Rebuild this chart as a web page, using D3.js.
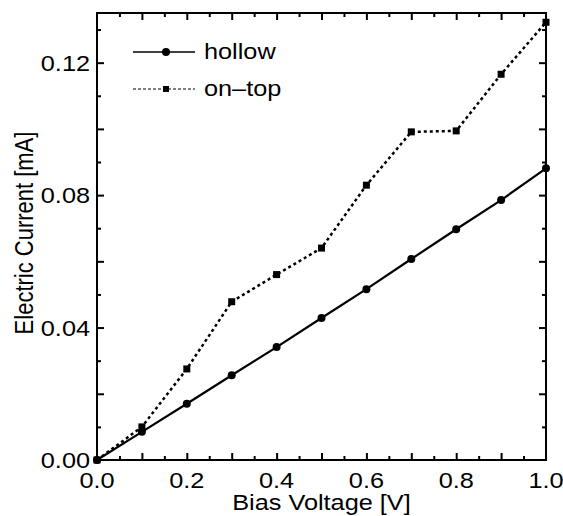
<!DOCTYPE html>
<html>
<head>
<meta charset="utf-8">
<script src="https://cdn.jsdelivr.net/npm/d3@7"></script>
<style>
  body { margin: 0; background: #fff; }
  svg text { font-family: "Liberation Sans", Arial, sans-serif; fill: #000; }
</style>
</head>
<body>
<svg id="chart" width="563" height="516"></svg>
<script>
// Bias voltage values shared by both curves
const voltage = [0.0, 0.1, 0.2, 0.3, 0.4, 0.5, 0.6, 0.7, 0.8, 0.9, 1.0];
// Electric current [mA] for each configuration
const hollow = [0.0, 0.0085, 0.0170, 0.0256, 0.0341, 0.0429, 0.0516, 0.0607, 0.0697, 0.0785, 0.0881];
const onTop = [0.0, 0.0100, 0.0275, 0.0478, 0.0560, 0.0640, 0.0830, 0.0991, 0.0994, 0.1165, 0.1322];

const xTickLabels = [0.0, 0.2, 0.4, 0.6, 0.8, 1.0];
const yTickLabels = [0.00, 0.04, 0.08, 0.12];

const margin = { left: 97, right: 17, top: 13, bottom: 56 };
const width = 563, height = 516;
// the original figure is slightly wider than tall, so horizontal text is stretched
const stretch = 'scale(1.15,1)';

const svg = d3.select('#chart');

// linear scales for voltage and current
const x = d3.scaleLinear().domain([0, 1]).range([margin.left, width - margin.right]);
const y = d3.scaleLinear().domain([0, 0.135]).range([height - margin.bottom, margin.top]);

const x0 = x(0), x1 = x(1), y0 = y(0), y1 = margin.top;

// inward ticks on all four sides, major and minor
function tickSet(axis, values, size) {
    return axis.tickValues(values).tickSize(size).tickFormat('');
}
const xMinor = d3.range(0.05, 1, 0.1);
const xMajor = d3.range(0.1, 1, 0.1);
const yMinor = d3.range(0.01, 0.135, 0.02);
const yMajor = d3.range(0.02, 0.135, 0.02);

const tickGroups = [
    [d3.axisTop(x), xMinor, 4, `translate(0,${y0})`],
    [d3.axisTop(x), xMajor, 7, `translate(0,${y0})`],
    [d3.axisBottom(x), xMinor, 4, `translate(0,${y1})`],
    [d3.axisBottom(x), xMajor, 7, `translate(0,${y1})`],
    [d3.axisRight(y), yMinor, 4, `translate(${x0},0)`],
    [d3.axisRight(y), yMajor, 7, `translate(${x0},0)`],
    [d3.axisLeft(y), yMinor, 4, `translate(${x1},0)`],
    [d3.axisLeft(y), yMajor, 7, `translate(${x1},0)`]
];
tickGroups.forEach(function(t) {
    const g = svg.append('g').attr('transform', t[3]).call(tickSet(t[0], t[1], t[2]));
    g.select('.domain').remove();
    g.selectAll('line').attr('stroke', '#000').attr('stroke-width', 2);
});

// frame
svg.append('rect')
    .attr('x', x0).attr('y', y1)
    .attr('width', x1 - x0).attr('height', y0 - y1)
    .attr('fill', 'none').attr('stroke', '#000').attr('stroke-width', 2);

// tick labels
svg.append('g').selectAll('text')
    .data(xTickLabels)
    .enter().append('text')
    .attr('transform', d => `translate(${x(d)},${y0 + 28}) ${stretch}`)
    .attr('text-anchor', 'middle')
    .style('font-size', '22px')
    .text(d => d.toFixed(1));

svg.append('g').selectAll('text')
    .data(yTickLabels)
    .enter().append('text')
    .attr('transform', d => `translate(${x0 - 7},${y(d) + 8}) ${stretch}`)
    .attr('text-anchor', 'end')
    .style('font-size', '22px')
    .text(d => d.toFixed(2));

// axis titles
svg.append('text')
    .attr('transform', `translate(${(x0 + x1) / 2},510) ${stretch}`)
    .attr('text-anchor', 'middle')
    .style('font-size', '22px')
    .text('Bias Voltage [V]');

svg.append('text')
    .attr('transform', `translate(33,233) rotate(-90) scale(1,1.15)`)
    .attr('text-anchor', 'middle')
    .style('font-size', '22px')
    .text('Electric Current [mA]');

// curves
const line = d3.line().x(d => x(d[0])).y(d => y(d[1]));
const hollowPts = voltage.map((v, i) => [v, hollow[i]]);
const onTopPts = voltage.map((v, i) => [v, onTop[i]]);

svg.append('path')
    .datum(onTopPts)
    .attr('d', line)
    .attr('fill', 'none')
    .attr('stroke', '#000')
    .attr('stroke-width', 2.5)
    .attr('stroke-dasharray', '3,3');

svg.append('path')
    .datum(hollowPts)
    .attr('d', line)
    .attr('fill', 'none')
    .attr('stroke', '#000')
    .attr('stroke-width', 2.2);

svg.append('g').selectAll('rect')
    .data(onTopPts)
    .enter().append('rect')
    .attr('x', d => x(d[0]) - 3.5)
    .attr('y', d => y(d[1]) - 3.5)
    .attr('width', 7).attr('height', 7)
    .attr('fill', '#000');

svg.append('g').selectAll('circle')
    .data(hollowPts)
    .enter().append('circle')
    .attr('cx', d => x(d[0]))
    .attr('cy', d => y(d[1]))
    .attr('r', 4)
    .attr('fill', '#000');

// legend
const legend = svg.append('g');
legend.append('line')
    .attr('x1', 133).attr('x2', 195).attr('y1', 52).attr('y2', 52)
    .attr('stroke', '#000').attr('stroke-width', 1.5);
legend.append('circle').attr('cx', 166).attr('cy', 52).attr('r', 4).attr('fill', '#000');
legend.append('text').attr('transform', `translate(204,59) ${stretch}`).style('font-size', '22px').text('hollow');

legend.append('line')
    .attr('x1', 133).attr('x2', 195).attr('y1', 89).attr('y2', 89)
    .attr('stroke', '#000').attr('stroke-width', 1.2)
    .attr('stroke-dasharray', '3,2');
legend.append('rect').attr('x', 163).attr('y', 86).attr('width', 6).attr('height', 6).attr('fill', '#000');
legend.append('text').attr('transform', `translate(204,96) ${stretch}`).style('font-size', '22px').text('on\u2013top');
</script>
</body>
</html>
